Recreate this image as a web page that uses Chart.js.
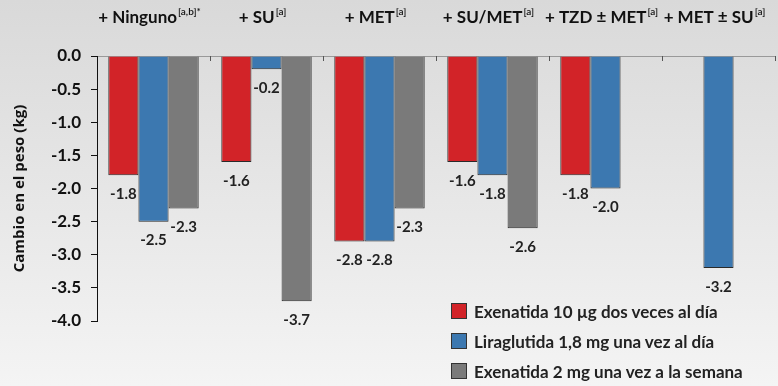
<!DOCTYPE html>
<html>
<head>
  <title>Cambio en el peso</title>
  <script src="https://cdn.jsdelivr.net/npm/chart.js"></script>
  <style>
    body {
      margin: 0;
      background: linear-gradient(#d9d9d9, #f4f4f4);
      width: 778px;
      height: 386px;
      overflow: hidden;
      font-family: Lato, sans-serif;
    }
    #wrap {
      position: relative;
      width: 778px;
      height: 386px;
    }
    #legend {
      position: absolute;
      left: 451px;
      top: 296px;
    }
    .item {
      height: 30px;
      display: flex;
      align-items: center;
      font-size: 17px;
      font-weight: bold;
      color: #222;
    }
    .box {
      width: 14px;
      height: 14px;
      border: 1px solid #333;
      margin-right: 7px;
    }
  </style>
</head>
<body>
  <div id="wrap">
    <canvas id="pesoChart"></canvas>
    <div id="legend"></div>
  </div>

  <script>
    const categories = ['+ Ninguno', '+ SU', '+ MET', '+ SU/MET', '+ TZD \u00b1 MET', '+ MET \u00b1 SU'];
    const superscripts = ['[a,b]*', '[a]', '[a]', '[a]', '[a]', '[a]'];

    const seriesNames = [
      'Exenatida 10 \u00b5g dos veces al d\u00eda',
      'Liraglutida 1,8 mg una vez al d\u00eda',
      'Exenatida 2 mg una vez a la semana'
    ];
    const exenatidaDaily = [-1.8, -1.6, -2.8, -1.6, -1.8, null];
    const liraglutida = [-2.5, -0.2, -2.8, -1.8, -2.0, -3.2];
    const exenatidaWeekly = [-2.3, -3.7, -2.3, -2.6, null, null];
    const colors = ['#d22328', '#3c78b0', '#7a7a7a'];

    // value labels under each bar end
    const valueLabels = {
      id: 'valueLabels',
      afterDatasetsDraw(chart) {
        const c = chart.ctx;
        c.save();
        c.font = 'bold 15px Lato';
        c.fillStyle = '#222';
        c.textAlign = 'center';
        c.textBaseline = 'middle';
        chart.data.datasets.forEach((ds, i) => {
          chart.getDatasetMeta(i).data.forEach((bar, j) => {
            const v = ds.data[j];
            if (v === null) return;
            c.fillText(v.toFixed(1), bar.x, bar.y + 19);
          });
        });
        c.restore();
      }
    };

    // category names on top with superscripts, plus inner tick marks
    const topLabels = {
      id: 'topLabels',
      afterDraw(chart) {
        const c = chart.ctx;
        const x = chart.scales.x;
        const area = chart.chartArea;
        const step = x.getPixelForValue(1) - x.getPixelForValue(0);
        c.save();
        c.strokeStyle = '#555';
        c.lineWidth = 1;
        for (let i = 0; i < categories.length; i++) {
          const bx = Math.round(x.getPixelForValue(i) + step / 2) + 0.5;
          c.beginPath();
          c.moveTo(bx, area.top);
          c.lineTo(bx, area.top + 5);
          c.stroke();
        }
        c.fillStyle = '#111';
        c.textBaseline = 'alphabetic';
        categories.forEach((name, i) => {
          c.font = 'bold 17px Lato';
          const w1 = c.measureText(name).width;
          c.font = '600 10px Lato';
          const w2 = c.measureText(superscripts[i]).width;
          let sx = x.getPixelForValue(i) - (w1 + w2 + 1) / 2 - 4;
          c.textAlign = 'left';
          c.font = 'bold 17px Lato';
          c.fillText(name, sx, 23);
          c.font = '600 10px Lato';
          c.fillText(superscripts[i], sx + w1 + 1, 15);
        });
        c.restore();
      }
    };

    const datasets = [exenatidaDaily, liraglutida, exenatidaWeekly].map((d, i) => ({
      label: seriesNames[i],
      data: d,
      backgroundColor: colors[i],
      borderColor: '#2a2a2a',
      borderWidth: 1,
      categoryPercentage: 0.8,
      barPercentage: 1.0
    }));

    const ctx = document.getElementById('pesoChart').getContext('2d');
    new Chart(ctx, {
      type: 'bar',
      data: { labels: categories, datasets: datasets },
      options: {
        responsive: true,
        maintainAspectRatio: false,
        animation: false,
        layout: { padding: { top: 0, right: 3, bottom: 65, left: 0 } },
        plugins: {
          legend: { display: false },
          tooltip: { enabled: false }
        },
        scales: {
          x: {
            position: 'top',
            afterFit(scale) { scale.height = 56; },
            ticks: { display: false },
            grid: { display: false },
            border: { display: true, color: '#999', width: 1 }
          },
          y: {
            min: -4,
            max: 0,
            afterFit(scale) { scale.width = 97; },
            ticks: {
              stepSize: 0.5,
              padding: 10,
              color: '#111',
              font: { family: 'Lato', weight: 'bold', size: 17 },
              callback: (v) => v.toFixed(1)
            },
            grid: {
              drawOnChartArea: false,
              drawTicks: true,
              tickLength: 6,
              color: '#111'
            },
            border: { color: '#111', width: 1 },
            title: {
              display: true,
              text: 'Cambio en el peso (kg)',
              color: '#111',
              font: { family: 'Open Sans', weight: 'bold', size: 15 },
              padding: { top: 11, bottom: 0 }
            }
          }
        }
      },
      plugins: [valueLabels, topLabels]
    });

    const legend = document.getElementById('legend');
    seriesNames.forEach((name, i) => {
      const row = document.createElement('div');
      row.className = 'item';
      const box = document.createElement('span');
      box.className = 'box';
      box.style.background = colors[i];
      const txt = document.createElement('span');
      txt.textContent = name;
      row.appendChild(box);
      row.appendChild(txt);
      legend.appendChild(row);
    });
  </script>
</body>
</html>
